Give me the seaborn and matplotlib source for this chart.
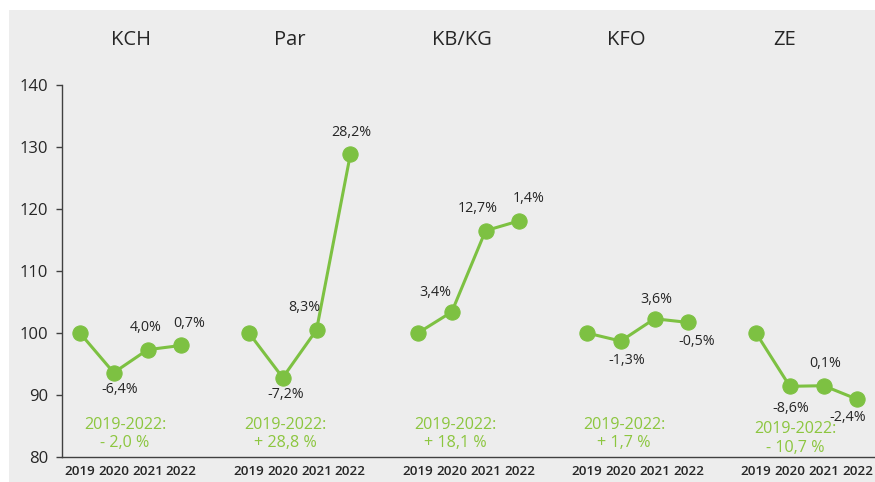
import seaborn as sns
import matplotlib.pyplot as plt
import pandas as pd
from matplotlib.patches import Rectangle

# data
groups = ['KCH', 'Par', 'KB/KG', 'KFO', 'ZE']
years = ['2019', '2020', '2021', '2022']
kch = [100, 93.6, 97.3, 98.0]
par = [100, 92.8, 100.5, 128.8]
kbkg = [100, 103.4, 116.5, 118.1]
kfo = [100, 98.7, 102.3, 101.7]
ze = [100, 91.4, 91.5, 89.3]
changes = [
    ['', '-6,4%', '4,0%', '0,7%'],
    ['', '-7,2%', '8,3%', '28,2%'],
    ['', '3,4%', '12,7%', '1,4%'],
    ['', '-1,3%', '3,6%', '-0,5%'],
    ['', '-8,6%', '0,1%', '-2,4%'],
]
totals = ['- 2,0 %', '+ 28,8 %', '+ 18,1 %', '+ 1,7 %', '- 10,7 %']

green = '#7dc142'
green_txt = '#8cc63f'
dark = '#262626'

sns.set_theme(style='white')
plt.rcParams['font.family'] = ['Open Sans', 'DejaVu Sans']

# long table, 5 slots per group (4 years + gap)
rows = []
for g, vals in enumerate([kch, par, kbkg, kfo, ze]):
    for i, v in enumerate(vals):
        rows.append({'group': groups[g], 'year': years[i], 'pos': g * 5 + i, 'value': v})
df = pd.DataFrame(rows)

fig = plt.figure(figsize=(8.75, 4.82), dpi=100)
fig.patch.set_facecolor('white')
fig.patches.append(Rectangle((9 / 875, 0), 1, 1 - 10 / 482, transform=fig.transFigure,
                             facecolor='#ededed', edgecolor='none', zorder=-10))
ax = fig.add_axes([62 / 875, 25 / 482, 1 - 62 / 875, 372 / 482])
ax.patch.set_alpha(0)

sns.lineplot(data=df, x='pos', y='value', units='group', estimator=None, color=green,
             marker='o', markersize=11, markeredgecolor=green, linewidth=2.2, ax=ax)

# percentage labels (offsets in points)
offsets = [
    [None, (4, -12), (-1, 16), (6, 16)],
    [None, (2, -12), (-9, 16), (1, 16)],
    [None, (-12, 14), (-6, 16), (7, 16)],
    [None, (4, -14), (1, 14), (6, -14)],
    [None, (1, -16), (1, 16), (-7, -13)],
]
for g in range(len(groups)):
    sub = df[df['group'] == groups[g]].reset_index(drop=True)
    for i in range(1, 4):
        ax.annotate(changes[g][i], (sub.loc[i, 'pos'], sub.loc[i, 'value']),
                    xytext=offsets[g][i], textcoords='offset points',
                    ha='center', va='center', fontsize=10.3, color=dark)

# group titles and summary text
title_shift = [0, -0.3, -0.2, -0.35, -0.65]
total_shift = [-0.17, -0.43, -0.4, -0.4, -0.35]
total_y = [83.7, 83.7, 83.7, 83.7, 83.0]
for g in range(len(groups)):
    ax.text(g * 5 + 1.5 + title_shift[g], 147.3, groups[g], ha='center', va='center',
            fontsize=14.5, color=dark, clip_on=False)
    ax.text(g * 5 + 1.5 + total_shift[g], total_y[g], '2019-2022:\n' + totals[g],
            ha='center', va='center', fontsize=11.6, color=green_txt, linespacing=1.2)

ax.set_xlim(-0.53, 23.52)
ax.set_ylim(80, 140)
ax.set_yticks([80, 90, 100, 110, 120, 130, 140])
ax.set_xticks(df['pos'])
ax.set_xticklabels(df['year'], fontsize=9.6, fontweight='semibold', color=dark)
ax.tick_params(axis='x', length=0, pad=6)
ax.tick_params(axis='y', length=4, width=1, color='#404040', labelsize=12, labelcolor=dark,
               pad=6, left=True)
ax.set_xlabel('')
ax.set_ylabel('')
sns.despine(ax=ax, top=True, right=True)
for s in ['left', 'bottom']:
    ax.spines[s].set_color('#404040')
    ax.spines[s].set_linewidth(1)

fig.savefig('out.png', dpi=100)
